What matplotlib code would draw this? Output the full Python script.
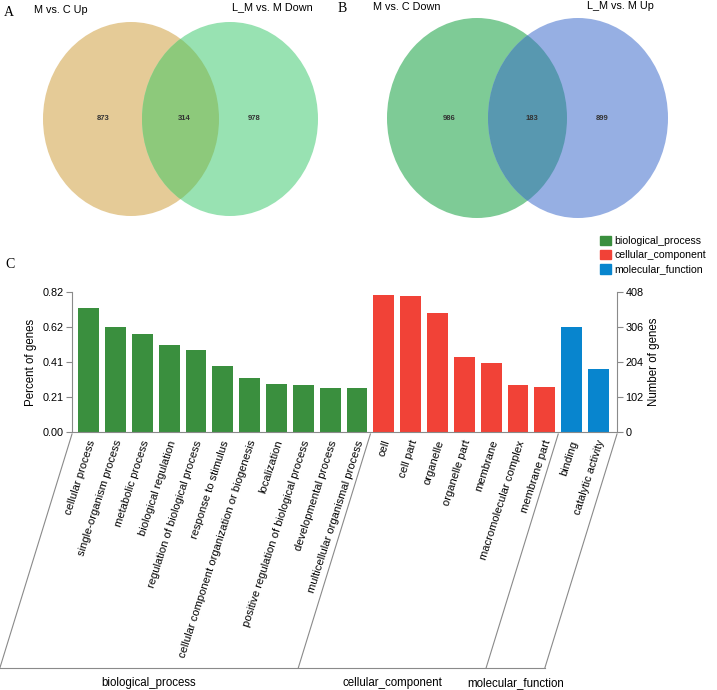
import numpy as np
import matplotlib
matplotlib.use("Agg")
import matplotlib.pyplot as plt
from matplotlib.patches import Ellipse, Patch

plt.rcParams['font.family'] = ['Liberation Sans', 'DejaVu Sans']

# ---------------------------
# data
# ---------------------------
venn_a_sets = ['M vs. C Up', 'L_M vs. M Down']
venn_a_counts = [873, 314, 978]
venn_b_sets = ['M vs. C Down', 'L_M vs. M Up']
venn_b_counts = [986, 183, 899]

bp_terms = ['cellular process', 'single-organism process', 'metabolic process',
            'biological regulation', 'regulation of biological process',
            'response to stimulus', 'cellular component organization or biogenesis',
            'localization', 'positive regulation of biological process',
            'developmental process', 'multicellular organismal process']
bp_genes = [361, 305, 285, 254, 239, 191, 156, 141, 137, 128, 127]

cc_terms = ['cell', 'cell part', 'organelle', 'organelle part', 'membrane',
            'macromolecular complex', 'membrane part']
cc_genes = [398, 397, 348, 218, 202, 137, 132]

mf_terms = ['binding', 'catalytic activity']
mf_genes = [306, 185]

groups = ['biological_process', 'cellular_component', 'molecular_function']
group_colors = ['#3A8F3E', '#F14237', '#0885CE']

gene_ticks = [0, 102, 204, 306, 408]
percent_ticks = ['0.00', '0.21', '0.41', '0.62', '0.82']

# ---------------------------
# figure
# ---------------------------
W, H = 717, 690
fig = plt.figure(figsize=(W / 100, H / 100), dpi=100)

ov = fig.add_axes([0, 0, 1, 1])
ov.set_xlim(0, W)
ov.set_ylim(H, 0)
ov.axis('off')


def venn(cx_l, cx_r, cy, rx, ry, cols, sets, counts, title_y):
    e1 = Ellipse((cx_l, cy), 2 * rx, 2 * ry, color=cols[0], lw=0)
    e2 = Ellipse((cx_r, cy), 2 * rx, 2 * ry, color=cols[1], lw=0)
    ov.add_patch(e1)
    ov.add_patch(e2)
    e3 = Ellipse((cx_l, cy), 2 * rx, 2 * ry, color=cols[2], lw=0)
    ov.add_patch(e3)
    e3.set_clip_path(e2)
    xs = [cx_l - 28, (cx_l + cx_r) / 2 + 4, cx_r + 24]
    for x, c in zip(xs, counts):
        ov.text(x, cy, str(c), ha='center', va='center', fontsize=5.5,
                fontweight='bold', color='#333333')
    ov.text(cx_l - 70, title_y[0], sets[0], ha='center', va='center', fontsize=7.8)
    ov.text(cx_r + 42, title_y[1], sets[1], ha='center', va='center', fontsize=7.8)


venn(131, 230, 119, 88, 97, ['#E5CB97', '#98E2B2', '#8DC97B'],
     venn_a_sets, venn_a_counts, (10, 7))
venn(477, 578, 118, 90, 100, ['#7ECB96', '#96AFE3', '#5898B0'],
     venn_b_sets, venn_b_counts, (7, 6))

for lab, x, y in [('A', 9, 12), ('B', 342, 9), ('C', 10, 265)]:
    ov.text(x, y, lab, ha='center', va='center', fontsize=10,
            family='Liberation Serif')

# ---------------------------
# bar chart
# ---------------------------
terms = bp_terms + cc_terms + mf_terms
genes = bp_genes + cc_genes + mf_genes
colors = ([group_colors[0]] * len(bp_terms) + [group_colors[1]] * len(cc_terms)
          + [group_colors[2]] * len(mf_terms))
x = np.arange(len(terms))

ax_l, ax_r, ax_b, ax_t = 72, 617, 432, 292
ax = fig.add_axes([ax_l / W, 1 - ax_b / H, (ax_r - ax_l) / W, (ax_b - ax_t) / H])
ax.bar(x, genes, width=0.78, color=colors)
ax.set_xlim(-0.62, len(terms) - 0.31)
ax.set_ylim(0, gene_ticks[-1])
ax.set_yticks(gene_ticks)
ax.set_yticklabels(percent_ticks, fontsize=7.8)
ax.set_xticks([])
ax.set_ylabel('Percent of genes', fontsize=8.3, labelpad=4)
for s in ['top', 'right']:
    ax.spines[s].set_visible(False)
for s in ['left', 'bottom']:
    ax.spines[s].set_color('#8a8a8a')
    ax.spines[s].set_linewidth(0.8)
ax.tick_params(axis='y', length=4, width=0.8, color='#8a8a8a', pad=2)

ax2 = ax.twinx()
ax2.set_ylim(0, gene_ticks[-1])
ax2.set_yticks(gene_ticks)
ax2.set_yticklabels([str(t) for t in gene_ticks], fontsize=7.8)
ax2.set_ylabel('Number of genes', fontsize=8.3, labelpad=3)
for s in ['top', 'left', 'bottom']:
    ax2.spines[s].set_visible(False)
ax2.spines['right'].set_color('#8a8a8a')
ax2.spines['right'].set_linewidth(0.8)
ax2.tick_params(axis='y', length=4, width=0.8, color='#8a8a8a', pad=2)

angle = 72
for xi, t in zip(x, terms):
    ax.annotate(t, (xi, 0), xytext=(-1, -5), textcoords='offset points',
                rotation=angle, ha='right', va='top', rotation_mode='anchor',
                fontsize=8, annotation_clip=False)

# group brackets
bottom_y = 668
drop = bottom_y - ax_b
dx = drop / np.tan(np.radians(73))
bounds = [-0.62, len(bp_terms) - 0.5, len(bp_terms) + len(cc_terms) - 0.5,
          len(terms) - 0.31]
tops = [ax.transData.transform((b, 0))[0] for b in bounds]
bots = [t - dx for t in tops]
for t, b in zip(tops, bots):
    ov.plot([t, b], [ax_b + 2, bottom_y], color='#8a8a8a', lw=0.8)
ov.plot([bots[0], bots[-1]], [bottom_y, bottom_y], color='#8a8a8a', lw=0.8)
for i, g in enumerate(groups):
    ov.text((bots[i] + bots[i + 1]) / 2, bottom_y + 15, g, ha='center',
            va='center', fontsize=8.3)

handles = [Patch(color=c, label=g) for c, g in zip(group_colors, groups)]
fig.legend(handles=handles, loc='upper left', bbox_to_anchor=(600 / W, 1 - 236 / H),
           frameon=False, fontsize=7.6, handlelength=1.0, handleheight=1.0,
           handletextpad=0.4, labelspacing=0.35, borderpad=0, borderaxespad=0)

fig.savefig('out.png', dpi=100)
